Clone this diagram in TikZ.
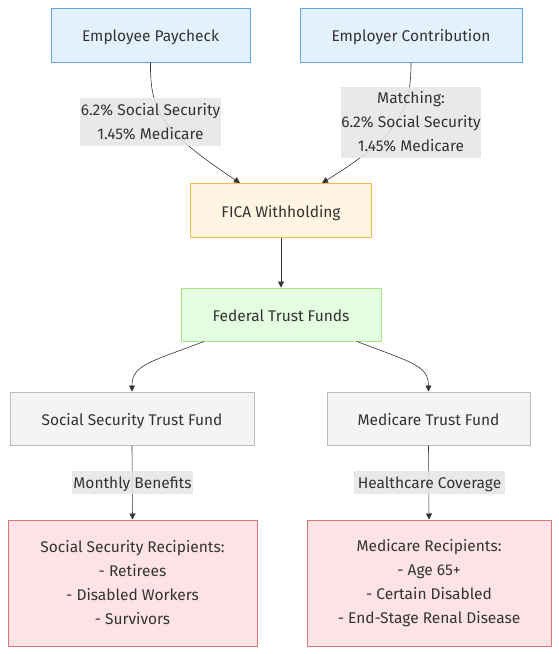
\documentclass[tikz,border=0pt]{standalone}
\usepackage{fontspec}
\setmainfont{Fira Sans}
\usetikzlibrary{arrows.meta,calc}
\definecolor{bluefill}{HTML}{E3F0FD}
\definecolor{bluedraw}{HTML}{63A4EE}
\definecolor{orfill}{HTML}{FFF5E2}
\definecolor{ordraw}{HTML}{F5BA52}
\definecolor{grfill}{HTML}{E4FCE0}
\definecolor{grdraw}{HTML}{A8E68A}
\definecolor{gyfill}{HTML}{F4F4F4}
\definecolor{gydraw}{HTML}{BBBBBB}
\definecolor{rdfill}{HTML}{FDE3E5}
\definecolor{rddraw}{HTML}{E0737C}
\definecolor{txt}{HTML}{333333}
\definecolor{lblfill}{HTML}{E6E6E6}
\tikzset{
  box/.style={draw, line width=1pt, text=txt, font=\fontsize{15.5}{24}\selectfont, align=center, inner sep=0pt},
  oneline/.style={text height=14pt, text depth=1pt},
  bluebox/.style={box, fill=bluefill, draw=bluedraw},
  orbox/.style={box, fill=orfill, draw=ordraw},
  grbox/.style={box, fill=grfill, draw=grdraw},
  gybox/.style={box, fill=gyfill, draw=gydraw},
  rdbox/.style={box, fill=rdfill, draw=rddraw},
  edge/.style={draw=txt, line width=0.6pt, -{Triangle[length=6pt,width=6pt]}},
  lbl/.style={fill=lblfill, fill opacity=0.85, text opacity=1, text=txt, font=\fontsize{15.5}{24}\selectfont, align=center, inner sep=0pt}
}
\begin{document}
\begin{tikzpicture}[x=1pt,y=-1pt]
\useasboundingbox (0,0) rectangle (559,654);
\fill[white] (0,0) rectangle (559,654);
\node[bluebox, oneline, minimum width=199pt, minimum height=54pt] (ep) at (150.5,35) {Employee Paycheck};
\node[bluebox, oneline, minimum width=222pt, minimum height=54pt] (ec) at (411,35) {Employer Contribution};
\node[orbox, oneline, minimum width=181pt, minimum height=54pt] (fica) at (281,210.5) {FICA Withholding};
\node[grbox, oneline, minimum width=200pt, minimum height=53pt] (fed) at (281,314.5) {Federal Trust Funds};
\node[gybox, oneline, minimum width=244pt, minimum height=53pt] (sstf) at (132,418.5) {Social Security Trust Fund};
\node[gybox, oneline, minimum width=203pt, minimum height=53pt] (mtf) at (428.5,418.5) {Medicare Trust Fund};
\node[rdbox, minimum width=249pt, minimum height=126pt] (ssr) at (132.5,583) {Social Security Recipients:\\- Retirees\\- Disabled Workers\\- Survivors};
\node[rdbox, minimum width=244pt, minimum height=126pt] (mr) at (429,583) {Medicare Recipients:\\- Age 65+\\- Certain Disabled\\- End-Stage Renal Disease};
% edges
\draw[edge] (ep.south) .. controls (150,110) and (160,130) .. ($(fica.north)+(-41,0)$);
\draw[edge] (ec.south) .. controls (411,110) and (400,135) .. ($(fica.north)+(41,0)$);
\draw[edge] (fica.south) -- (fed.north);
\draw[edge] ($(fed.south)+(-77,0)$) .. controls (150,362) and (132,365) .. (sstf.north);
\draw[edge] ($(fed.south)+(76,0)$) .. controls (410,362) and (428.5,365) .. (mtf.north);
\draw[edge] (sstf.south) -- (ssr.north);
\draw[edge] (mtf.south) -- (mr.north);
% labels
\node[lbl, minimum width=141pt, minimum height=48pt] (l1) at (150.5,122) {6.2\% Social Security\\1.45\% Medicare};
\node[lbl, minimum width=140pt, minimum height=71pt] (l2) at (411,122) {Matching:\\6.2\% Social Security\\1.45\% Medicare};
\node[lbl, oneline, minimum width=121pt, minimum height=23pt] (l3) at (132.5,482) {Monthly Benefits};
\node[lbl, oneline, minimum width=151pt, minimum height=23pt] (l4) at (429.5,482) {Healthcare Coverage};
\end{tikzpicture}
\end{document}
